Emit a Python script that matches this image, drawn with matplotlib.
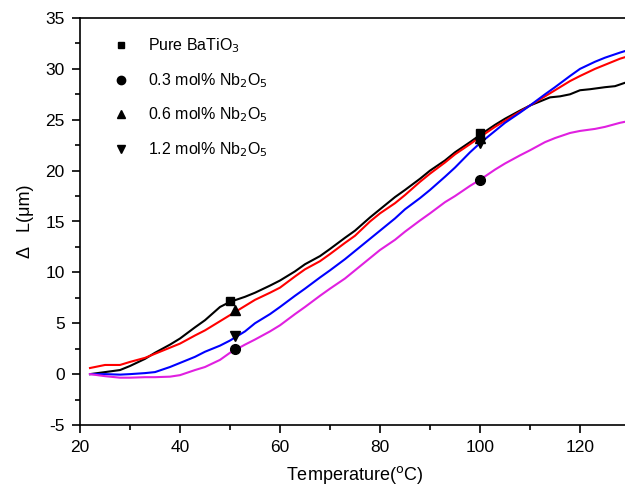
import numpy as np
import matplotlib
matplotlib.use('Agg')
import matplotlib.pyplot as plt
from matplotlib.ticker import MultipleLocator
from matplotlib.lines import Line2D

plt.rcParams['font.family'] = ['Liberation Sans', 'DejaVu Sans']
plt.rcParams['axes.unicode_minus'] = False

# dilatometer curves, delta L (um) vs temperature (C)
t_pure = [22, 25, 28, 30, 33, 35, 38, 40, 43, 45, 48, 50, 53, 55, 58, 60, 63, 65, 68, 70,
          73, 75, 78, 80, 83, 85, 88, 90, 93, 95, 98, 100, 103, 105, 108, 110, 112, 114,
          116, 118, 120, 122, 125, 127, 130]
dl_pure = [0.0, 0.2, 0.4, 0.8, 1.5, 2.1, 2.9, 3.5, 4.6, 5.3, 6.6, 7.1, 7.6, 8.0, 8.7, 9.2,
           10.1, 10.8, 11.6, 12.3, 13.4, 14.1, 15.4, 16.2, 17.4, 18.1, 19.2, 20.0, 21.0,
           21.8, 22.8, 23.5, 24.5, 25.1, 25.9, 26.4, 26.8, 27.2, 27.3, 27.5, 27.9, 28.0,
           28.2, 28.3, 28.8]

t_nb = [22, 25, 28, 30, 33, 35, 38, 40, 43, 45, 48, 50, 53, 55, 58, 60, 63, 65, 68, 70,
        73, 75, 78, 80, 83, 85, 88, 90, 93, 95, 98, 100, 103, 105, 108, 110, 113, 115,
        118, 120, 123, 125, 128, 130]
dl_03 = [0.0, -0.2, -0.35, -0.35, -0.3, -0.3, -0.25, -0.1, 0.4, 0.7, 1.4, 2.1, 2.9, 3.4,
         4.2, 4.8, 5.9, 6.6, 7.7, 8.4, 9.4, 10.2, 11.4, 12.2, 13.2, 14.0, 15.1, 15.8, 16.9,
         17.5, 18.5, 19.1, 20.1, 20.7, 21.5, 22.0, 22.8, 23.2, 23.7, 23.9, 24.1, 24.3,
         24.7, 24.9]
dl_06 = [0.6, 0.9, 0.9, 1.2, 1.6, 2.0, 2.6, 3.0, 3.8, 4.3, 5.2, 5.8, 6.7, 7.3, 8.0, 8.5,
         9.6, 10.3, 11.1, 11.8, 12.9, 13.6, 15.0, 15.8, 16.8, 17.6, 18.9, 19.7, 20.8,
         21.6, 22.6, 23.3, 24.3, 24.9, 25.8, 26.4, 27.3, 27.9, 28.8, 29.3, 30.0, 30.4,
         31.0, 31.3]
dl_12 = [0.0, 0.0, -0.05, 0.0, 0.1, 0.2, 0.7, 1.1, 1.7, 2.2, 2.8, 3.3, 4.2, 5.0, 5.9, 6.6,
         7.7, 8.4, 9.5, 10.2, 11.3, 12.1, 13.3, 14.1, 15.3, 16.2, 17.3, 18.1, 19.4, 20.3,
         21.8, 22.7, 23.9, 24.7, 25.7, 26.4, 27.5, 28.2, 29.3, 30.0, 30.7, 31.1, 31.6,
         31.9]

# marker positions
mk_pure_t, mk_pure_v = [50, 100], [7.2, 23.7]
mk_03_t, mk_03_v = [51, 100], [2.5, 19.1]
mk_06_t, mk_06_v = [51, 100], [6.3, 23.2]
mk_12_t, mk_12_v = [51, 100], [3.7, 22.7]

labels = ['Pure BaTiO$_3$', '0.3 mol% Nb$_2$O$_5$',
          '0.6 mol% Nb$_2$O$_5$', '1.2 mol% Nb$_2$O$_5$']

fig = plt.figure(figsize=(6.25, 4.9), dpi=100)
ax = fig.add_axes([80 / 625, 65 / 490, 550 / 625, 407 / 490])

lw = 1.5
ax.plot(t_pure, dl_pure, color='black', lw=lw)
ax.plot(t_nb, dl_06, color='red', lw=lw)
ax.plot(t_nb, dl_12, color='blue', lw=lw)
ax.plot(t_nb, dl_03, color='#e020e0', lw=lw)

ax.plot(mk_pure_t, mk_pure_v, 's', color='black', ms=6, ls='none')
ax.plot(mk_03_t, mk_03_v, 'o', color='black', ms=7, ls='none')
ax.plot(mk_06_t, mk_06_v, '^', color='black', ms=7, ls='none')
ax.plot(mk_12_t, mk_12_v, 'v', color='black', ms=7, ls='none')

handles = [Line2D([], [], marker=m, color='black', ls='none', ms=s)
           for m, s in zip(['s', 'o', '^', 'v'], [5, 6, 6, 6])]
ax.legend(handles, labels, loc='upper left', frameon=False, fontsize=11.5,
          handletextpad=0.7, labelspacing=1.0, bbox_to_anchor=(0.02, 0.99))

ax.set_xlim(20, 130)
ax.set_ylim(-5, 35)
ax.xaxis.set_major_locator(MultipleLocator(20))
ax.xaxis.set_minor_locator(MultipleLocator(10))
ax.yaxis.set_major_locator(MultipleLocator(5))
ax.yaxis.set_minor_locator(MultipleLocator(2.5))
ax.tick_params(which='both', direction='out', labelsize=12.5, width=1.2)
ax.tick_params(which='major', length=6, pad=5)
ax.tick_params(which='minor', length=3.5)
for s in ax.spines.values():
    s.set_linewidth(1.2)

ax.set_xlabel('Temperature($^{\\mathrm{o}}$C)', fontsize=13, labelpad=6)
ax.set_ylabel('\u0394   L(\u03bcm)', fontsize=13, labelpad=8)

fig.savefig('out.png', dpi=100)
